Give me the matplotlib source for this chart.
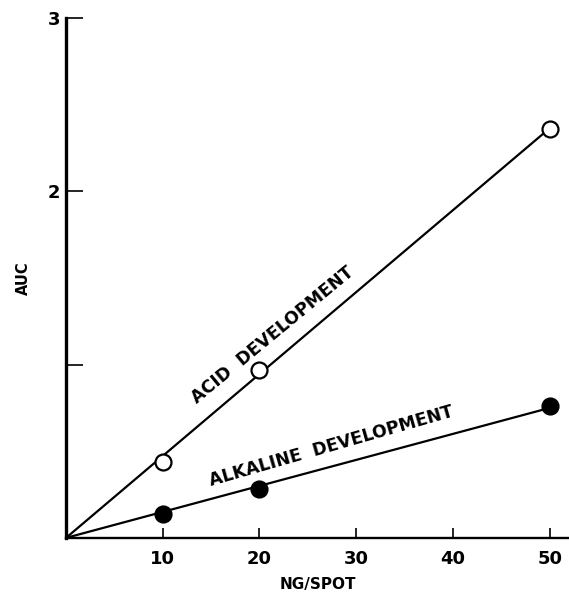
import numpy as np
import matplotlib
matplotlib.use("Agg")
import matplotlib.pyplot as plt

# Amount applied per spot (ng) and measured area under curve
ng_per_spot = [10, 20, 50]
auc_acid = [0.44, 0.97, 2.36]
auc_alkaline = [0.14, 0.28, 0.76]

x_ticks = [10, 20, 30, 40, 50]
x_tick_labels = ["10", "20", "30", "40", "50"]
y_ticks = [1, 2, 3]
y_tick_labels = ["", "2", "3"]

fig = plt.figure(figsize=(5.69, 5.97), dpi=100)
ax = fig.add_axes([0.116, 0.099, 0.884, 0.871])
ax.set_xlim(0, 52)
ax.set_ylim(0, 3)

x = np.array(ng_per_spot, dtype=float)


def origin_fit(xv, yv):
    yv = np.asarray(yv, dtype=float)
    return np.sum(xv * yv) / np.sum(xv * xv)


xfit = np.array([0.0, 50.0])
for yv, filled in ((auc_acid, False), (auc_alkaline, True)):
    k = origin_fit(x, yv)
    ax.plot(xfit, k * xfit, color="black", lw=1.6, solid_capstyle="round",
            zorder=2, clip_on=False)
    ax.plot(x, yv, "o", ms=11.5, mew=1.6, mec="black",
            mfc="black" if filled else "white", zorder=3, clip_on=False)

ax.text(21.4, 1.17, "ACID  DEVELOPMENT", rotation=39.5, ha="center",
        va="center", fontsize=12.5, fontweight="bold")
ax.text(27.4, 0.53, "ALKALINE  DEVELOPMENT", rotation=16, ha="center",
        va="center", fontsize=12.5, fontweight="bold")

for side in ("top", "right"):
    ax.spines[side].set_visible(False)
ax.spines["left"].set_linewidth(2.4)
ax.spines["bottom"].set_linewidth(1.7)

ax.set_xticks(x_ticks)
ax.set_xticklabels(x_tick_labels, fontsize=13, fontweight="bold")
ax.set_yticks(y_ticks)
ax.set_yticklabels(y_tick_labels, fontsize=13, fontweight="bold")
ax.tick_params(axis="x", direction="in", length=7, width=1.2, pad=9)
ax.tick_params(axis="y", direction="in", length=12, width=1.2, pad=4)

ax.set_xlabel("NG/SPOT", fontsize=11, fontweight="bold", labelpad=6)
ax.set_ylabel("AUC", fontsize=10.5, fontweight="bold", labelpad=12)

fig.savefig("out.png", dpi=100)
